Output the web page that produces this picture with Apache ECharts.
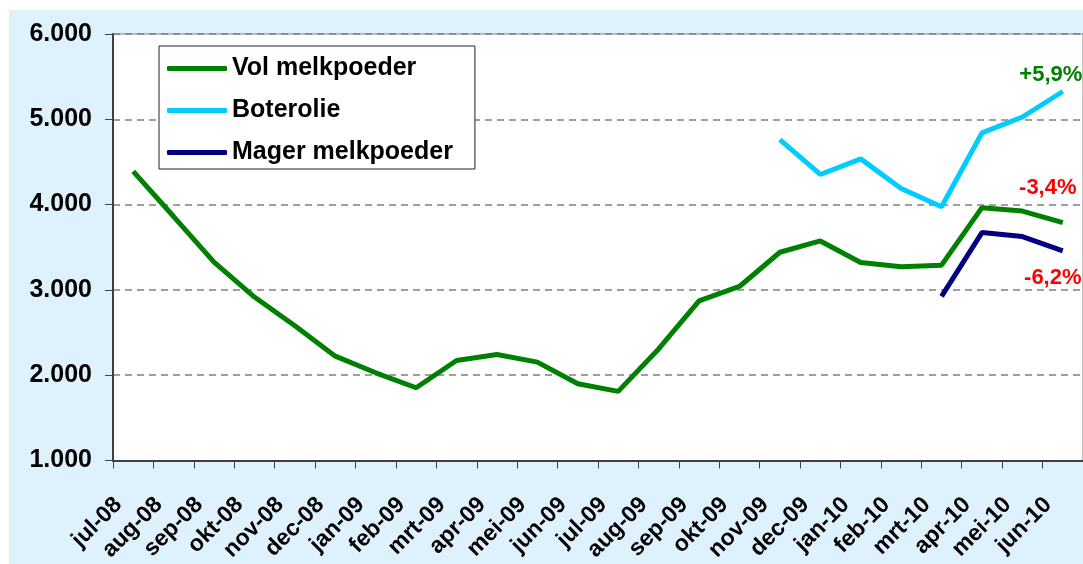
<!DOCTYPE html>
<html>
<head>
<meta charset="utf-8">
<script src="https://cdn.jsdelivr.net/npm/echarts@6/dist/echarts.min.js"></script>
<style>
  html, body { margin: 0; padding: 0; background: #fff; }
  #chart { position: absolute; left: 9px; top: 10px; width: 1074px; height: 554px; background: #dff1fc; }
</style>
</head>
<body>
<div id="chart"></div>
<script>
// maanden jul-08 .. jun-10
const months = ['jul-08', 'aug-08', 'sep-08', 'okt-08', 'nov-08', 'dec-08',
  'jan-09', 'feb-09', 'mrt-09', 'apr-09', 'mei-09', 'jun-09',
  'jul-09', 'aug-09', 'sep-09', 'okt-09', 'nov-09', 'dec-09',
  'jan-10', 'feb-10', 'mrt-10', 'apr-10', 'mei-10', 'jun-10']

const volMelkpoeder = [4390, 3860, 3325, 2916, 2580, 2223, 2028, 1853, 2172, 2242, 2153, 1900,
  1810, 2308, 2870, 3040, 3441, 3574, 3321, 3270, 3290, 3964, 3924, 3788]
const boterolie = [null, null, null, null, null, null, null, null, null, null, null, null,
  null, null, null, null, 4762, 4353, 4536, 4189, 3975, 4840, 5027, 5326]
const magerMelkpoeder = [null, null, null, null, null, null, null, null, null, null, null, null,
  null, null, null, null, null, null, null, null, 2924, 3672, 3625, 3457]

// procentuele verandering bij laatste maand
const endLabels = { vol: '-3,4%', boter: '+5,9%', mager: '-6,2%' }

const FONT = "'Liberation Sans', Arial, sans-serif"

// laatste punt krijgt een label
const withEndLabel = (arr, text, color, offset) => {
  return arr.map((v, i) => {
    if (i !== arr.length - 1) return v
    return {
      value: v,
      label: {
        show: true, formatter: text, position: 'inside', offset: offset,
        color: color, fontFamily: FONT, fontWeight: 'bold', fontSize: 22
      }
    }
  })
}

const fmt = (v) => String(v).replace(/\B(?=(\d{3})+(?!\d))/g, '.')

const chart = echarts.init(document.getElementById('chart'))
chart.setOption({
  animation: false,
  backgroundColor: 'transparent',
  textStyle: { fontFamily: FONT },
  grid: {
    left: 104, top: 24, width: 974, bottom: 102,
    show: true, backgroundColor: '#ffffff', borderColor: '#808080', borderWidth: 1
  },
  legend: {
    orient: 'vertical', left: 150, top: 36,
    backgroundColor: '#ffffff', borderColor: '#222', borderWidth: 1,
    padding: [10, 22, 4, 8],
    itemWidth: 60, itemHeight: 5, itemGap: 17, icon: 'roundRect',
    textStyle: { fontFamily: FONT, fontWeight: 'bold', fontSize: 25, color: '#000', lineHeight: 25 },
    data: ['Vol melkpoeder', 'Boterolie', 'Mager melkpoeder']
  },
  xAxis: {
    type: 'category', data: months, boundaryGap: true,
    axisLine: { lineStyle: { color: '#404040', width: 2 } },
    axisTick: { show: true, length: 8, lineStyle: { color: '#404040', width: 1 } },
    axisLabel: {
      rotate: 45, interval: 0, margin: 26, padding: [0, 21, 0, 0],
      color: '#000', fontFamily: FONT, fontWeight: 'bold', fontSize: 23
    }
  },
  yAxis: {
    type: 'value', min: 1000, max: 6000, interval: 1000,
    axisLine: { show: true, lineStyle: { color: '#404040', width: 2 } },
    axisTick: { show: true, length: 8, lineStyle: { color: '#404040', width: 1 } },
    axisLabel: {
      margin: 21, formatter: fmt,
      color: '#000', fontFamily: FONT, fontWeight: 'bold', fontSize: 25
    },
    splitLine: { lineStyle: { color: '#808080', width: 1.5, type: [7, 5] } }
  },
  series: [
    {
      name: 'Vol melkpoeder', type: 'line', symbol: 'circle', symbolSize: 0,
      lineStyle: { color: '#008000', width: 5 }, itemStyle: { color: '#008000' },
      data: withEndLabel(volMelkpoeder, endLabels.vol, '#ff0000', [-15, -35])
    },
    {
      name: 'Boterolie', type: 'line', symbol: 'circle', symbolSize: 0,
      lineStyle: { color: '#00ccff', width: 5 }, itemStyle: { color: '#00ccff' },
      data: withEndLabel(boterolie, endLabels.boter, '#008000', [-12, -17])
    },
    {
      name: 'Mager melkpoeder', type: 'line', symbol: 'circle', symbolSize: 0,
      lineStyle: { color: '#000080', width: 5 }, itemStyle: { color: '#000080' },
      data: withEndLabel(magerMelkpoeder, endLabels.mager, '#ff0000', [-10, 27])
    }
  ]
})
</script>
</body>
</html>
